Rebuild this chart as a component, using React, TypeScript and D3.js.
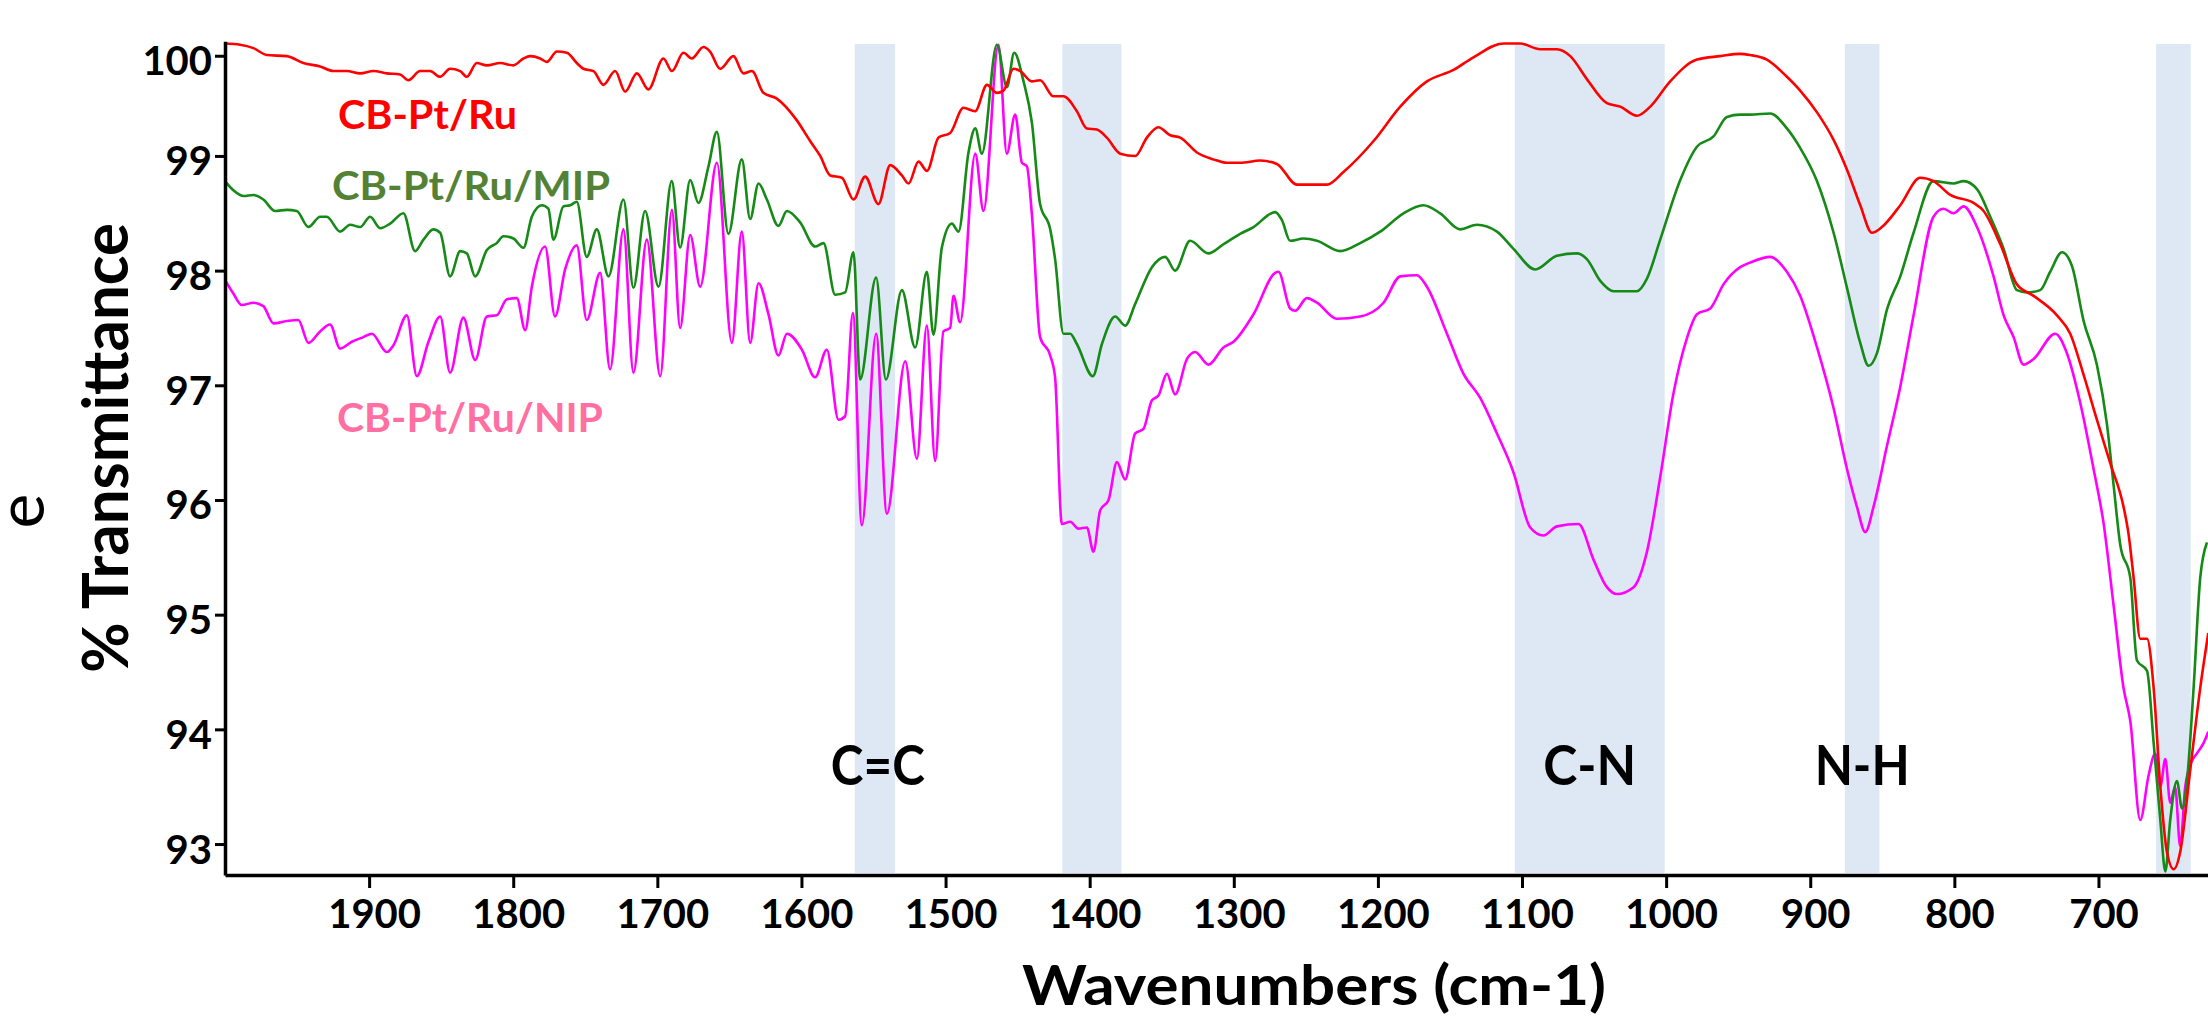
import React, { useEffect, useRef } from 'react';
import * as d3 from 'd3';

type Pt = [number, number];

// [wavenumber (cm-1), % transmittance]
const cbPtRu: Pt[] = [
  [2000, 99.98], [1989.5, 99.97], [1980.3, 99.94], [1971, 99.88], [1957.1, 99.87], [1945.6, 99.81], [1934, 99.78],
  [1924.8, 99.74], [1915.5, 99.74], [1906.2, 99.72], [1897, 99.74], [1887.7, 99.72], [1878.5, 99.71], [1872.7, 99.66],
  [1864.6, 99.74], [1857.7, 99.74], [1850.7, 99.69], [1843.8, 99.76], [1836.8, 99.74], [1832.2, 99.69], [1825.3, 99.81],
  [1818.3, 99.79], [1809.1, 99.81], [1799.9, 99.79], [1792.9, 99.85], [1788.3, 99.87], [1781.3, 99.85], [1776.7, 99.82],
  [1769.7, 99.91], [1762.8, 99.9], [1755.9, 99.81], [1751.3, 99.76], [1744.3, 99.74], [1737.4, 99.62], [1729.3, 99.74],
  [1722.3, 99.56], [1714.2, 99.72], [1706.2, 99.58], [1695.8, 99.85], [1689.9, 99.74], [1681.9, 99.9], [1676.1, 99.85],
  [1668, 99.95], [1663.4, 99.91], [1656.4, 99.76], [1647.2, 99.87], [1640.3, 99.72], [1634.4, 99.74], [1626.4, 99.55],
  [1617.1, 99.5], [1603.2, 99.31], [1594, 99.13], [1587, 99], [1580.1, 98.83], [1572, 98.81], [1563.9, 98.62],
  [1555.8, 98.82], [1546.6, 98.58], [1538.4, 98.92], [1530.3, 98.83], [1525.7, 98.76], [1518.8, 98.95], [1512.9, 98.87],
  [1504.9, 99.16], [1496.8, 99.2], [1487.6, 99.42], [1479.5, 99.39], [1471.3, 99.62], [1464.4, 99.55], [1459.8, 99.57],
  [1452.9, 99.76], [1448.2, 99.74], [1440.1, 99.65], [1434.4, 99.66], [1425.1, 99.52], [1418.2, 99.52], [1408.9, 99.39],
  [1402, 99.24], [1395, 99.23], [1388.1, 99.16], [1378.8, 99.02], [1368.4, 99], [1360.3, 99.16], [1352.3, 99.25],
  [1344.1, 99.18], [1337.2, 99.16], [1325.6, 99.03], [1314.1, 98.97], [1304.8, 98.94], [1295.6, 98.94], [1281.7, 98.96],
  [1270.1, 98.93], [1256.2, 98.75], [1235.4, 98.75], [1223.9, 98.86], [1203, 99.13], [1184.5, 99.43], [1166, 99.65],
  [1147.5, 99.75], [1133.7, 99.86], [1112.8, 99.98], [1101.3, 99.98], [1087.4, 99.93], [1075.8, 99.93], [1066.5, 99.87],
  [1055, 99.67], [1041.1, 99.46], [1031.8, 99.43], [1020.3, 99.35], [1011, 99.43], [997.2, 99.65], [978.6, 99.84],
  [962.5, 99.87], [948.6, 99.89], [941.7, 99.88], [930.1, 99.84], [916.2, 99.69], [907, 99.57], [895.3, 99.38],
  [883.8, 99.14], [874.5, 98.88], [865.3, 98.57], [857.2, 98.33], [850.3, 98.38], [837.5, 98.57], [823.7, 98.81],
  [814.5, 98.78], [802.8, 98.66], [786.7, 98.59], [779.7, 98.52], [768.1, 98.23], [756.6, 97.88], [745, 97.78],
  [728.8, 97.61], [719.6, 97.45], [710.3, 97.09], [701.1, 96.7], [691.8, 96.32], [682.6, 95.94], [679.1, 95.7],
  [675.6, 95.32], [671, 94.79], [666.3, 94.79], [661.7, 94.36], [657.1, 93.5], [652.5, 92.93], [647.8, 92.78],
  [643.3, 92.93], [636.3, 93.65], [629.4, 94.36], [623.8, 94.84],
];

const cbPtRuMip: Pt[] = [
  [2000, 98.78], [1994.2, 98.7], [1987.2, 98.65], [1980.3, 98.66], [1973.4, 98.62], [1965.2, 98.52], [1957.1, 98.53],
  [1950.2, 98.52], [1942.1, 98.38], [1934, 98.47], [1929.4, 98.47], [1920.1, 98.34], [1913.2, 98.4], [1906.2, 98.38],
  [1899.3, 98.47], [1892.4, 98.37], [1885.4, 98.41], [1876.2, 98.5], [1868.1, 98.17], [1862.3, 98.27], [1855.4, 98.36],
  [1850.7, 98.33], [1843.8, 97.95], [1836.8, 98.17], [1832.2, 98.15], [1826.4, 97.95], [1818.3, 98.18], [1811.4, 98.24],
  [1806.8, 98.3], [1799.9, 98.28], [1792.9, 98.2], [1787.1, 98.47], [1780.2, 98.57], [1775.6, 98.54], [1772.1, 98.27],
  [1765.2, 98.56], [1760.5, 98.57], [1755.9, 98.6], [1749, 98.12], [1742, 98.36], [1733.9, 97.95], [1723.5, 98.62],
  [1716.6, 97.85], [1708.5, 98.52], [1699.2, 97.86], [1690, 98.78], [1684.2, 98.2], [1677.2, 98.79], [1671.5, 98.59],
  [1664.5, 98.91], [1658.7, 99.21], [1650.7, 98.32], [1641.4, 98.97], [1635.6, 98.45], [1629.8, 98.76], [1624, 98.62],
  [1616, 98.39], [1610.1, 98.52], [1600.9, 98.42], [1590.5, 98.21], [1584.7, 98.24], [1576.6, 97.79], [1569.7, 97.81],
  [1563.9, 98.16], [1559.3, 97.05], [1548.2, 97.94], [1541.4, 97.05], [1530.3, 97.83], [1521.1, 97.33], [1513, 97.99],
  [1508.4, 97.44], [1502.6, 98.2], [1495.6, 98.41], [1491, 98.34], [1484.1, 99.03], [1479.4, 99.24], [1474.8, 99.02],
  [1464.4, 99.97], [1457.4, 99.6], [1452.4, 99.9], [1445.9, 99.65], [1440.1, 99.29], [1434.4, 98.58], [1427.4, 98.36],
  [1424, 98.1], [1418.2, 97.45], [1413.5, 97.45], [1408.9, 97.36], [1397.8, 97.08], [1391.5, 97.36], [1382.3, 97.6],
  [1375.4, 97.52], [1368.4, 97.71], [1356.8, 98.03], [1347.6, 98.12], [1340.7, 98], [1330.3, 98.26], [1317.6, 98.15],
  [1307.2, 98.23], [1295.6, 98.32], [1286.3, 98.38], [1271.3, 98.51], [1266.6, 98.44], [1260.9, 98.26], [1251.6, 98.28],
  [1242.3, 98.26], [1226.2, 98.17], [1212.3, 98.24], [1198.4, 98.34], [1182.2, 98.5], [1168.4, 98.57], [1156.8, 98.5],
  [1142.9, 98.36], [1131.3, 98.4], [1117.4, 98.34], [1105.9, 98.19], [1090.8, 98.01], [1075.8, 98.13], [1061.9, 98.15],
  [1055, 98.1], [1045.7, 97.91], [1036.5, 97.82], [1020.3, 97.82], [1013.3, 97.93], [1004.1, 98.27], [990.2, 98.79],
  [978.6, 99.08], [967.1, 99.17], [957.8, 99.34], [948.6, 99.36], [941.7, 99.36], [927.8, 99.37], [916.2, 99.24],
  [907, 99.07], [895.3, 98.78], [883.8, 98.33], [874.5, 97.85], [865.3, 97.37], [859.5, 97.17], [853.7, 97.28],
  [846.8, 97.66], [837.5, 97.95], [828.3, 98.33], [814.5, 98.78], [800.6, 98.76], [793.6, 98.78], [784.3, 98.71],
  [775.1, 98.47], [765.8, 98.19], [756.6, 97.83], [749.6, 97.81], [740.4, 97.83], [733.5, 97.99], [725.3, 98.16],
  [718.4, 98.04], [710.3, 97.56], [701.1, 97.18], [694.1, 96.66], [689.5, 96.13], [684.9, 95.61], [677.9, 95.32],
  [673.3, 94.6], [666.3, 94.51], [661.7, 93.88], [657.1, 93.21], [653.6, 92.76], [650.2, 93.21], [645.6, 93.55],
  [642, 93.31], [638.6, 93.55], [634, 94.36], [629.4, 95.32], [624.7, 95.63],
];

const cbPtRuNip: Pt[] = [
  [2000, 97.92], [1994.2, 97.8], [1988.3, 97.7], [1980.3, 97.72], [1973.4, 97.69], [1966.4, 97.54], [1957.1, 97.56],
  [1949.1, 97.57], [1942.1, 97.37], [1934, 97.47], [1927.1, 97.53], [1920.1, 97.32], [1912, 97.38], [1904, 97.42],
  [1898.1, 97.45], [1887.7, 97.29], [1883.1, 97.35], [1873.8, 97.61], [1866.9, 97.08], [1858.8, 97.38], [1850.7, 97.6],
  [1843.8, 97.11], [1834.6, 97.59], [1826.4, 97.22], [1818.3, 97.6], [1811.4, 97.61], [1804.4, 97.75], [1797.5, 97.76],
  [1791.7, 97.48], [1787.1, 97.86], [1777.9, 98.21], [1771, 97.6], [1764, 98.01], [1755.9, 98.22], [1749, 97.57],
  [1739.7, 97.98], [1732.8, 97.14], [1723.5, 98.36], [1716.6, 97.11], [1707.3, 98.27], [1698, 97.08], [1689.9, 98.53],
  [1684.2, 97.5], [1677.2, 98.31], [1670.3, 97.86], [1658.7, 98.94], [1648.3, 97.37], [1641.4, 98.34], [1635.6, 97.37],
  [1629.8, 97.89], [1622.9, 97.62], [1616, 97.26], [1610.1, 97.45], [1599.7, 97.31], [1590.5, 97.07], [1582.4, 97.31],
  [1574.3, 96.7], [1569.7, 96.73], [1564.3, 97.63], [1558.1, 95.78], [1548.2, 97.45], [1540.7, 95.88], [1528, 97.21],
  [1519.9, 96.36], [1513, 97.52], [1507.2, 96.34], [1501.5, 97.47], [1496.8, 97.5], [1494.5, 97.78], [1489.9, 97.55],
  [1479.4, 99.02], [1473.7, 98.52], [1463.3, 99.97], [1457.5, 99.02], [1451.7, 99.36], [1447, 98.94], [1443.6, 98.91],
  [1440.1, 98.49], [1434.4, 97.42], [1427.4, 97.26], [1424, 97.07], [1419.3, 95.79], [1413.5, 95.81], [1407.8, 95.75],
  [1401.9, 95.76], [1397.4, 95.55], [1392.7, 95.91], [1386.9, 96], [1381.1, 96.33], [1375.4, 96.18], [1368.4, 96.58],
  [1362.7, 96.62], [1356.8, 96.87], [1352.3, 96.91], [1346.4, 97.1], [1340.7, 96.92], [1332.5, 97.23], [1326.8, 97.29],
  [1317.6, 97.18], [1307.2, 97.33], [1300.2, 97.38], [1286.3, 97.62], [1271.3, 97.98], [1269, 97.99], [1260.9, 97.67],
  [1257.4, 97.65], [1249.3, 97.76], [1242.3, 97.72], [1228.5, 97.58], [1212.3, 97.6], [1196.1, 97.72], [1184.5, 97.95],
  [1173, 97.96], [1166, 97.86], [1152.1, 97.45], [1140.6, 97.1], [1129, 96.89], [1117.4, 96.58], [1105.9, 96.24],
  [1094.3, 95.76], [1085.1, 95.69], [1075.8, 95.77], [1060.8, 95.79], [1050.4, 95.48], [1041.1, 95.24], [1034.2, 95.18],
  [1022.6, 95.24], [1013.3, 95.55], [1004.1, 96.2], [994.9, 96.93], [985.6, 97.41], [978.6, 97.62], [969.4, 97.67],
  [960.2, 97.88], [948.6, 98.03], [941.7, 98.07], [927.8, 98.12], [916.2, 97.99], [907, 97.78], [895.3, 97.33],
  [883.8, 96.8], [874.5, 96.27], [867.6, 95.94], [861.8, 95.72], [856.1, 95.94], [846.8, 96.47], [837.5, 96.99],
  [828.3, 97.61], [814.5, 98.47], [807.6, 98.54], [800.6, 98.5], [793.6, 98.56], [784.3, 98.38], [772.8, 97.95],
  [765.8, 97.61], [758.9, 97.42], [752, 97.18], [745, 97.23], [730, 97.45], [721.9, 97.28], [712.7, 96.85],
  [703.4, 96.27], [696.5, 95.8], [689.5, 95.08], [682.6, 94.36], [677.9, 94.07], [671, 93.21], [665.2, 93.6],
  [660.6, 93.79], [657.1, 93.5], [653.6, 93.74], [650.2, 93.36], [646.8, 93.5], [643.3, 92.98], [639.8, 93.5],
  [636.3, 93.69], [631.7, 93.79], [627.1, 93.88], [623.8, 93.98],
];

const seriesNames = ['CB-Pt/Ru', 'CB-Pt/Ru/MIP', 'CB-Pt/Ru/NIP'];

const xTicks = [1900, 1800, 1700, 1600, 1500, 1400, 1300, 1200, 1100, 1000, 900, 800, 700];
const yTicks = [93, 94, 95, 96, 97, 98, 99, 100];

// highlighted absorption regions [from, to] in cm-1
const bands: [number, number][] = [[1563, 1535], [1419, 1378], [1105, 1001], [876, 852], [660, 636]];
const bandLabels = ['C=C', 'C-N', 'N-H'];
const bandLabelAt = [1547, 1053, 864];

const W = 2208;
const H = 1016;
const FONT = 'Lato, "Open Sans", sans-serif';

const App: React.FC = () => {
  const svgRef = useRef<SVGSVGElement>(null);

  useEffect(() => {
    if (!svgRef.current) return;
    const svg = d3.select(svgRef.current);
    svg.selectAll('*').remove();

    const x = d3.scaleLinear().domain([2000, 624]).range([225, 2208]);
    const y = d3.scaleLinear().domain([92.73, 100]).range([875, 41.25]);

    // shaded bands
    svg.append('g')
      .selectAll('rect')
      .data(bands)
      .join('rect')
      .attr('x', d => x(d[0]))
      .attr('width', d => x(d[1]) - x(d[0]))
      .attr('y', 44)
      .attr('height', 873 - 44)
      .attr('fill', '#dde8f4');

    // band annotations
    const labelWidths = [94, 93, 95];
    svg.append('g')
      .selectAll('text')
      .data(bandLabels)
      .join('text')
      .attr('x', (_, i) => x(bandLabelAt[i]))
      .attr('y', 785)
      .attr('text-anchor', 'middle')
      .attr('textLength', (_, i) => labelWidths[i])
      .attr('lengthAdjust', 'spacingAndGlyphs')
      .style('font-family', FONT)
      .style('font-weight', 700)
      .style('font-size', '56px')
      .text(d => d);

    // spectra
    const line = d3.line<Pt>()
      .x(d => x(d[0]))
      .y(d => y(d[1]))
      .curve(d3.curveMonotoneX);

    const series = [
      { data: cbPtRuNip, color: '#ff00ff' },
      { data: cbPtRuMip, color: '#168a16' },
      { data: cbPtRu, color: '#ff0000' },
    ];
    series.forEach(s => {
      svg.append('path')
        .datum(s.data)
        .attr('d', line)
        .attr('fill', 'none')
        .attr('stroke', s.color)
        .attr('stroke-width', 2.6)
        .attr('stroke-linejoin', 'round');
    });

    // axes
    const xAxis = svg.append('g')
      .attr('transform', `translate(0, ${y(92.73)})`)
      .call(d3.axisBottom(x).tickValues(xTicks).tickSize(13).tickSizeOuter(0).tickFormat(d3.format('d')));
    xAxis.select('.domain').attr('stroke-width', 3.5);
    xAxis.selectAll('.tick line').attr('stroke-width', 3);
    xAxis.selectAll('.tick text')
      .attr('y', 53)
      .attr('dy', 0)
      .attr('dx', 5)
      .attr('fill', '#000')
      .style('font-family', FONT)
      .style('font-weight', 700)
      .style('font-size', '40px');

    const yAxis = svg.append('g')
      .attr('transform', 'translate(225, 0)')
      .call(d3.axisLeft(y).tickValues(yTicks).tickSize(10).tickSizeOuter(0).tickFormat(d3.format('d')));
    yAxis.select('.domain').attr('stroke-width', 3.5);
    yAxis.selectAll('.tick line').attr('stroke-width', 3);
    yAxis.selectAll('.tick text')
      .attr('x', -13)
      .attr('dy', 0)
      .attr('y', 19)
      .attr('fill', '#000')
      .style('font-family', FONT)
      .style('font-weight', 700)
      .style('font-size', '40px');
    // the top tick sits a little lower in the original figure
    yAxis.selectAll<SVGGElement, number>('.tick')
      .filter(d => d === 100)
      .attr('transform', `translate(0, ${y(100) + 15})`);

    // axis titles
    svg.append('text')
      .attr('x', 1314)
      .attr('y', 1005)
      .attr('text-anchor', 'middle')
      .attr('textLength', 584)
      .attr('lengthAdjust', 'spacingAndGlyphs')
      .style('font-family', FONT)
      .style('font-weight', 700)
      .style('font-size', '56px')
      .text('Wavenumbers (cm-1)');

    svg.append('text')
      .attr('transform', 'translate(128, 448) rotate(-90)')
      .attr('text-anchor', 'middle')
      .attr('textLength', 450)
      .attr('lengthAdjust', 'spacingAndGlyphs')
      .style('font-family', FONT)
      .style('font-weight', 700)
      .style('font-size', '64px')
      .text('% Transmittance');

    svg.append('text')
      .attr('transform', 'translate(44, 511) rotate(-90)')
      .attr('text-anchor', 'middle')
      .style('font-family', FONT)
      .style('font-weight', 400)
      .style('font-size', '66px')
      .text('e');

    // series labels
    const legend = [
      { x: 338, y: 129, w: 179, color: '#ff0000' },
      { x: 332, y: 200, w: 278, color: '#548235' },
      { x: 337, y: 432, w: 266, color: '#ff6fa1' },
    ];
    svg.append('g')
      .selectAll('text')
      .data(seriesNames)
      .join('text')
      .attr('x', (_, i) => legend[i].x)
      .attr('y', (_, i) => legend[i].y)
      .attr('textLength', (_, i) => legend[i].w)
      .attr('lengthAdjust', 'spacingAndGlyphs')
      .attr('fill', (_, i) => legend[i].color)
      .style('font-family', FONT)
      .style('font-weight', 700)
      .style('font-size', '40px')
      .text(d => d);
  }, []);

  return (
    <svg
      ref={svgRef}
      width={W}
      height={H}
      style={{ position: 'absolute', left: 0, top: 0, display: 'block', background: '#fff' }}
    />
  );
};

export default App;
